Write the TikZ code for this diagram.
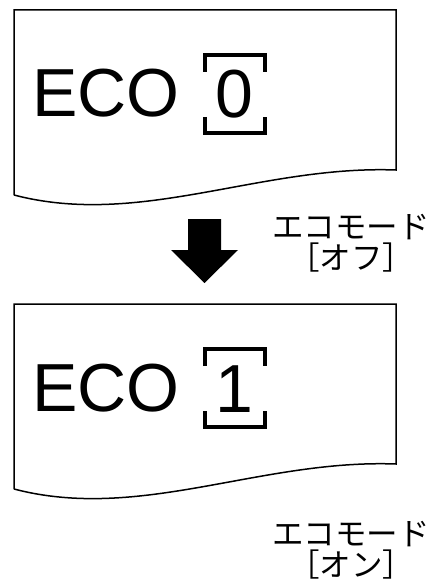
\documentclass[tikz,border=0pt]{standalone}
\usepackage{fontspec}
\setmainfont{Liberation Sans}
\newfontfamily\jpfont{Noto Sans CJK JP}
\usetikzlibrary{calc}
\colorlet{PaperLine}{black}
\colorlet{ArrowFill}{black}
\tikzset{
  paper/.style={draw=PaperLine, line width=1.5pt, line join=miter},
  ecotext/.style={inner sep=0pt, font=\fontsize{68}{68}\selectfont},
  digitframe/.style={draw=black, line width=4pt},
  modetext/.style={inner sep=0pt, align=center, font=\jpfont\fontsize{31.5}{31}\selectfont}
}

\begin{document}
\begin{tikzpicture}[x=1pt, y=-1pt]
    \useasboundingbox (0,0) rectangle (436,588);

    \coordinate (A) at (14, 10);
    \coordinate (B) at (396, 10);
    \coordinate (C) at (396, 170);
    \coordinate (D) at (14, 195);

    % Segunda hoja, desplazada hacia abajo.
    \coordinate (E) at ($(A) + (0, 294)$);
    \coordinate (F) at ($(B) + (0, 294)$);
    \coordinate (G) at ($(C) + (0, 294)$);
    \coordinate (H) at ($(D) + (0, 294)$);

    \draw[paper] (D) -- (A) -- (B) -- (C)
        .. controls ($(C) + (-136, -5)$) and ($(D) + (126, 33)$) .. (D);
    \draw[paper] (H) -- (E) -- (F) -- (G)
        .. controls ($(G) + (-136, -5)$) and ($(H) + (126, 33)$) .. (H);

    \node[ecotext, anchor=base west] (eco1) at (32, 117) {ECO};
    \node[ecotext, anchor=base] (digit1) at (234, 118) {0};
    \draw[digitframe] (205, 72) -- (205, 55) -- (265, 55) -- (265, 72);
    \draw[digitframe] (205, 117) -- (205, 133) -- (265, 133) -- (265, 117);

    \node[ecotext, anchor=base west] (eco2) at (32, 411) {ECO};
    \node[ecotext, anchor=base] (digit2) at (234, 412) {1};
    \draw[digitframe] (205, 366) -- (205, 349) -- (265, 349) -- (265, 366);
    \draw[digitframe] (205, 411) -- (205, 427) -- (265, 427) -- (265, 411);

    % Flecha gruesa entre las dos hojas.
    \fill[ArrowFill] (188, 219) -- (221, 219) -- (221, 250) -- (238, 250)
        -- (204.5, 283) -- (171, 250) -- (188, 250) -- cycle;

    \node[modetext] (offlabel) at (351, 243) {エコモード\\［オフ］};
    \node[modetext] (onlabel) at (351, 550) {エコモード\\［オン］};
\end{tikzpicture}
\end{document}
